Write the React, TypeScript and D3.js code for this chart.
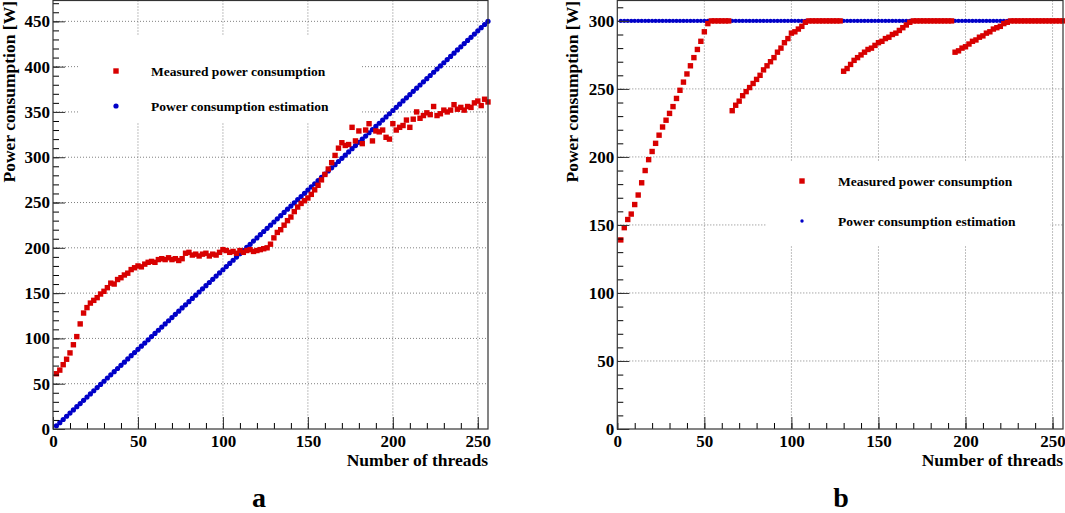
import React, { useEffect, useRef } from "react";
import * as d3 from "d3";

// thread counts sampled (every second value)
const threads = [
  2, 4, 6, 8, 10, 12, 14, 16, 18, 20, 22, 24, 26, 28, 30, 32, 34, 36, 38, 40,
  42, 44, 46, 48, 50, 52, 54, 56, 58, 60, 62, 64, 66, 68, 70, 72, 74, 76, 78, 80,
  82, 84, 86, 88, 90, 92, 94, 96, 98, 100, 102, 104, 106, 108, 110, 112, 114, 116, 118, 120,
  122, 124, 126, 128, 130, 132, 134, 136, 138, 140, 142, 144, 146, 148, 150, 152, 154, 156, 158, 160,
  162, 164, 166, 168, 170, 172, 174, 176, 178, 180, 182, 184, 186, 188, 190, 192, 194, 196, 198, 200,
  202, 204, 206, 208, 210, 212, 214, 216, 218, 220, 222, 224, 226, 228, 230, 232, 234, 236, 238, 240,
  242, 244, 246, 248, 250, 252, 254, 256,
];

// panel a
const measuredA = [
  61, 65, 71, 77, 84, 93, 102, 116, 128, 134,
  139, 142, 145, 149, 152, 156, 161, 160, 165, 167,
  170, 172, 176, 178, 180, 179, 182, 184, 185, 184,
  187, 188, 187, 189, 187, 188, 186, 188, 194, 195,
  192, 193, 191, 193, 194, 191, 193, 192, 195, 198,
  197, 195, 196, 194, 197, 195, 197, 198, 196, 197,
  198, 199, 200, 204, 211, 217, 220, 225, 230, 234,
  240, 245, 249, 252, 255, 259, 264, 269, 275, 281,
  287, 294, 302, 310, 316, 313, 314, 333, 318, 329,
  315, 330, 337, 318, 329, 328, 330, 322, 320, 337,
  330, 333, 335, 341, 333, 342, 350, 343, 346, 349,
  347, 356, 346, 348, 352, 350, 352, 358, 353, 355,
  352, 356, 355, 360, 362, 357, 364, 361,
];
const estimatedA = [
  3.5, 7.0, 10.5, 14.1, 17.6, 21.1, 24.6, 28.1, 31.6, 35.2,
  38.7, 42.2, 45.7, 49.2, 52.7, 56.3, 59.8, 63.3, 66.8, 70.3,
  73.8, 77.3, 80.9, 84.4, 87.9, 91.4, 94.9, 98.4, 102.0, 105.5,
  109.0, 112.5, 116.0, 119.5, 123.0, 126.6, 130.1, 133.6, 137.1, 140.6,
  144.1, 147.7, 151.2, 154.7, 158.2, 161.7, 165.2, 168.8, 172.3, 175.8,
  179.3, 182.8, 186.3, 189.8, 193.4, 196.9, 200.4, 203.9, 207.4, 210.9,
  214.5, 218.0, 221.5, 225.0, 228.5, 232.0, 235.5, 239.1, 242.6, 246.1,
  249.6, 253.1, 256.6, 260.2, 263.7, 267.2, 270.7, 274.2, 277.7, 281.3,
  284.8, 288.3, 291.8, 295.3, 298.8, 302.3, 305.9, 309.4, 312.9, 316.4,
  319.9, 323.4, 327.0, 330.5, 334.0, 337.5, 341.0, 344.5, 348.0, 351.6,
  355.1, 358.6, 362.1, 365.6, 369.1, 372.7, 376.2, 379.7, 383.2, 386.7,
  390.2, 393.8, 397.3, 400.8, 404.3, 407.8, 411.3, 414.8, 418.4, 421.9,
  425.4, 428.9, 432.4, 435.9, 439.5, 443.0, 446.5, 450.0,
];

// panel b
const measuredB = [
  139, 148, 154, 158, 165, 172, 181, 190, 198, 204,
  210, 216, 222, 227, 232, 237, 243, 249, 255, 261,
  267, 273, 279, 285, 292, 298, 300, 300, 300, 300,
  300, 300, 234, 238, 241, 245, 248, 251, 254, 257,
  260, 264, 267, 270, 273, 277, 280, 284, 287, 291,
  292, 294, 296, 299, 300, 300, 300, 300, 300, 300,
  300, 300, 300, 300, 263, 265, 268, 271, 273, 275,
  277, 279, 280, 282, 284, 285, 287, 288, 290, 291,
  293, 295, 297, 299, 300, 300, 300, 300, 300, 300,
  300, 300, 300, 300, 300, 300, 277, 278, 280, 281,
  283, 285, 286, 288, 289, 291, 292, 294, 295, 296,
  298, 299, 300, 300, 300, 300, 300, 300, 300, 300,
  300, 300, 300, 300, 300, 300, 300, 300,
];
const estimatedB = [
  300, 300, 300, 300, 300, 300, 300, 300, 300, 300,
  300, 300, 300, 300, 300, 300, 300, 300, 300, 300,
  300, 300, 300, 300, 300, 300, 300, 300, 300, 300,
  300, 300, 300, 300, 300, 300, 300, 300, 300, 300,
  300, 300, 300, 300, 300, 300, 300, 300, 300, 300,
  300, 300, 300, 300, 300, 300, 300, 300, 300, 300,
  300, 300, 300, 300, 300, 300, 300, 300, 300, 300,
  300, 300, 300, 300, 300, 300, 300, 300, 300, 300,
  300, 300, 300, 300, 300, 300, 300, 300, 300, 300,
  300, 300, 300, 300, 300, 300, 300, 300, 300, 300,
  300, 300, 300, 300, 300, 300, 300, 300, 300, 300,
  300, 300, 300, 300, 300, 300, 300, 300, 300, 300,
  300, 300, 300, 300, 300, 300, 300, 300,
];

const xTicks = [0, 50, 100, 150, 200, 250];
const yTicksA = [0, 50, 100, 150, 200, 250, 300, 350, 400, 450];
const yTicksB = [0, 50, 100, 150, 200, 250, 300];
const legendLabels = ["Measured power consumption", "Power consumption estimation"];
const xTitle = "Number of threads";
const yTitle = "Power consumption [W]";
const panelLabels = ["a", "b"];

const FONT = "'Liberation Serif', 'Times New Roman', serif";
const RED = "#d80000";
const BLUE = "#0000c8";

interface Panel {
  left: number;
  right: number;
  yMax: number;
  yTicks: number[];
  measured: number[];
  estimated: number[];
  blueR: number;
  box: [number, number, number, number];
  markX: number;
  textX: number;
  rowY: [number, number];
  legendBlueR: number;
  titleX: number;
  label: string;
  labelX: number;
}

function drawPanel(svg: d3.Selection<SVGSVGElement, unknown, null, undefined>, p: Panel) {
  const top = 0.5;
  const bottom = 429;
  const x = d3.scaleLinear().domain([0, 256]).range([p.left, p.right]);
  const y = d3.scaleLinear().domain([0, p.yMax]).range([bottom, top]);
  const g = svg.append("g");

  // dotted grid
  g.append("g")
    .selectAll("line")
    .data(xTicks.filter((d) => d > 0))
    .join("line")
    .attr("x1", (d) => x(d))
    .attr("x2", (d) => x(d))
    .attr("y1", top)
    .attr("y2", bottom)
    .attr("stroke", "#808080")
    .attr("stroke-dasharray", "1,2");
  g.append("g")
    .selectAll("line")
    .data(p.yTicks.filter((d) => d > 0))
    .join("line")
    .attr("x1", p.left)
    .attr("x2", p.right)
    .attr("y1", (d) => y(d))
    .attr("y2", (d) => y(d))
    .attr("stroke", "#808080")
    .attr("stroke-dasharray", "1,2");

  // legend box hides the grid
  const [bx0, by0, bx1, by1] = p.box;
  g.append("rect").attr("x", bx0).attr("y", by0).attr("width", bx1 - bx0).attr("height", by1 - by0).attr("fill", "white");

  // estimation
  g.append("g")
    .selectAll("circle")
    .data(threads)
    .join("circle")
    .attr("cx", (d) => x(d))
    .attr("cy", (d, i) => y(p.estimated[i]))
    .attr("r", p.blueR)
    .attr("fill", BLUE);

  // measured
  g.append("g")
    .selectAll("rect")
    .data(threads)
    .join("rect")
    .attr("x", (d) => x(d) - 2.7)
    .attr("y", (d, i) => y(p.measured[i]) - 2.7)
    .attr("width", 5.4)
    .attr("height", 5.4)
    .attr("fill", RED);

  // axes
  const minorX = d3.range(0, 257, 10);
  const minorY = d3.range(0, p.yMax, 10);
  g.append("g")
    .attr("transform", `translate(0,${bottom})`)
    .call(d3.axisBottom(x).tickValues(minorX).tickSize(-6).tickFormat(() => ""))
    .call((s) => s.select(".domain").remove());
  g.append("g")
    .attr("transform", `translate(${p.left},0)`)
    .call(d3.axisLeft(y).tickValues(minorY).tickSize(-6).tickFormat(() => ""))
    .call((s) => s.select(".domain").remove());
  const ax = g
    .append("g")
    .attr("transform", `translate(0,${bottom})`)
    .call(d3.axisBottom(x).tickValues(xTicks).tickSize(-12).tickPadding(6).tickFormat(d3.format("d")));
  ax.select(".domain").remove();
  const ay = g
    .append("g")
    .attr("transform", `translate(${p.left},0)`)
    .call(d3.axisLeft(y).tickValues(p.yTicks).tickSize(-12).tickPadding(3).tickFormat(d3.format("d")));
  ay.select(".domain").remove();
  [ax, ay].forEach((a) => {
    a.attr("color", "#333").attr("font-family", FONT).attr("font-size", 17).attr("font-weight", "bold");
    a.selectAll("text").attr("fill", "black");
  });

  // frame
  g.append("rect")
    .attr("x", p.left)
    .attr("y", top)
    .attr("width", p.right - p.left)
    .attr("height", bottom - top)
    .attr("fill", "none")
    .attr("stroke", "#333")
    .attr("stroke-width", 1.2);

  // legend
  const lg = g.append("g").attr("font-family", FONT).attr("font-weight", "bold").attr("font-size", 13.5);
  lg.append("rect")
    .attr("x", p.markX - 2.7)
    .attr("y", p.rowY[0] - 2.7)
    .attr("width", 5.4)
    .attr("height", 5.4)
    .attr("fill", RED);
  lg.append("circle").attr("cx", p.markX).attr("cy", p.rowY[1]).attr("r", p.legendBlueR).attr("fill", BLUE);
  legendLabels.forEach((t, i) => {
    lg.append("text").attr("x", p.textX).attr("y", p.rowY[i] + 5).text(t);
  });

  // titles
  g.append("text")
    .attr("x", p.right)
    .attr("y", 466)
    .attr("text-anchor", "end")
    .attr("font-family", FONT)
    .attr("font-weight", "bold")
    .attr("font-size", 17.5)
    .text(xTitle);
  g.append("text")
    .attr("transform", `translate(${p.titleX},1) rotate(-90)`)
    .attr("text-anchor", "end")
    .attr("font-family", FONT)
    .attr("font-weight", "bold")
    .attr("font-size", 17.5)
    .text(yTitle);
  g.append("text")
    .attr("x", p.labelX)
    .attr("y", 507)
    .attr("text-anchor", "middle")
    .attr("font-family", FONT)
    .attr("font-weight", "bold")
    .attr("font-size", 28)
    .text(p.label);
}

export default function App() {
  const svgRef = useRef<SVGSVGElement>(null);

  useEffect(() => {
    const svg = d3.select(svgRef.current as SVGSVGElement);
    svg.selectAll("*").remove();
    svg.append("rect").attr("width", 1065).attr("height", 513).attr("fill", "white");

    drawPanel(svg, {
      left: 53,
      right: 488,
      yMax: 473,
      yTicks: yTicksA,
      measured: measuredA,
      estimated: estimatedA,
      blueR: 2.6,
      box: [80, 35, 360, 123],
      markX: 116,
      textX: 151,
      rowY: [71, 106],
      legendBlueR: 2.6,
      titleX: 14.5,
      label: panelLabels[0],
      labelX: 259,
    });
    drawPanel(svg, {
      left: 617.3,
      right: 1063,
      yMax: 315,
      yTicks: yTicksB,
      measured: measuredB,
      estimated: estimatedB,
      blueR: 2.1,
      box: [767, 162, 1050, 245],
      markX: 802,
      textX: 838,
      rowY: [181, 221],
      legendBlueR: 1.7,
      titleX: 578,
      label: panelLabels[1],
      labelX: 841,
    });
  }, []);

  return (
    <svg
      ref={svgRef}
      width={1065}
      height={513}
      style={{ position: "absolute", left: 0, top: 0, display: "block" }}
    ></svg>
  );
}
